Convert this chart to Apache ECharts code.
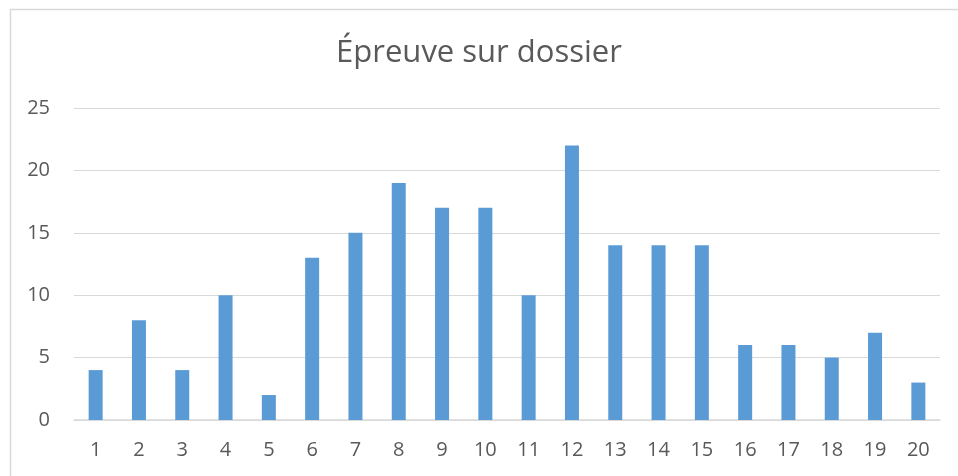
<!DOCTYPE html>
<html><head><meta charset="utf-8">
<script src="https://cdn.jsdelivr.net/npm/echarts@6/dist/echarts.min.js"></script>
<style>html,body{margin:0;padding:0;background:#fff;}#c{width:958px;height:476px;}</style>
</head><body><div id="c"></div>
<script>
const title = "Épreuve sur dossier";
const categories = ["1","2","3","4","5","6","7","8","9","10","11","12","13","14","15","16","17","18","19","20"];
const values = [4,8,4,10,2,13,15,19,17,17,10,22,14,14,14,6,6,5,7,3];
const yTicks = [0,5,10,15,20,25];

const chart = echarts.init(document.getElementById('c'));
chart.setOption({
  animation: false,
  title: {
    text: title, left: 'center', top: 33,
    textStyle: {fontFamily: 'Open Sans', fontSize: 31, fontWeight: 'normal', color: '#595959'}
  },
  graphic: [{
    type: 'rect', shape: {x: 10.5, y: 9.5, width: 1000, height: 600},
    style: {fill: 'none', stroke: '#d9d9d9', lineWidth: 1.5}, silent: true
  }],
  grid: {left: 74, right: 18, top: 108, bottom: 56},
  xAxis: {
    type: 'category', data: categories,
    axisLine: {lineStyle: {color: '#d9d9d9', width: 1.5}},
    axisTick: {show: false},
    axisLabel: {fontFamily: 'Open Sans', fontSize: 20, color: '#595959', margin: 20}
  },
  yAxis: {
    type: 'value', min: yTicks[0], max: yTicks[yTicks.length-1], interval: 5,
    axisLine: {show: false}, axisTick: {show: false},
    splitLine: {lineStyle: {color: '#d9d9d9', width: 1}},
    axisLabel: {fontFamily: 'Open Sans', fontSize: 20, color: '#595959', margin: 24}
  },
  series: [{
    type: 'bar', data: values, barWidth: 14,
    itemStyle: {color: '#5b9bd5'}
  }]
});
</script></body></html>
